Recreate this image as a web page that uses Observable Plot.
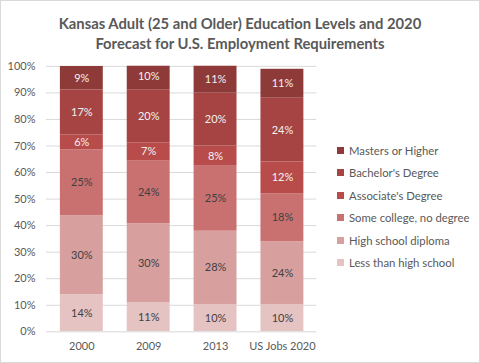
<!DOCTYPE html>
<html><head><meta charset="utf-8">
<script src="https://cdn.jsdelivr.net/npm/d3@7"></script>
<script src="https://cdn.jsdelivr.net/npm/@observablehq/plot@0.6"></script>
<style>
body{margin:0;background:#fff;font-family:Lato,"Open Sans",sans-serif;}
#wrap{position:relative;width:480px;height:363px;box-sizing:border-box;border:1px solid #d9d9d9;overflow:hidden;}
#title{position:absolute;top:12px;left:0;width:478px;text-align:center;font-weight:bold;font-size:14.8px;line-height:20px;color:#595959;}
#chart{position:absolute;top:-1px;left:-1px;}
#legend{position:absolute;left:336px;top:138px;font-size:11.3px;color:#595959;}
.item{display:flex;align-items:center;height:22.5px;}
.sw{width:7px;height:7px;margin-right:5px;}
</style></head>
<body>
<div id="wrap">
<div id="title">Kansas Adult (25 and Older) Education Levels and 2020<br>Forecast for U.S. Employment Requirements</div>
<div id="chart"></div>
<div id="legend"></div>
</div>
<script>
const categories = ["2000", "2009", "2013", "US Jobs 2020"];
const levels = ["Less than high school", "High school diploma", "Some college, no degree", "Associate's Degree", "Bachelor's Degree", "Masters or Higher"];
const colors = ["#E6C3C3", "#D89F9F", "#C87170", "#B84C4A", "#A54442", "#8E3A39"];
const labelColors = ["#404040", "#404040", "#404040", "#f2f2f2", "#f2f2f2", "#f2f2f2"];
// values per category, bottom to top (percent)
const v2000 = [14.0, 29.7, 24.8, 5.6, 17.0, 8.9];
const v2009 = [11.0, 29.7, 23.6, 6.9, 20.0, 9.6];
const v2013 = [10.3, 27.6, 24.5, 7.6, 19.9, 10.5];
const vJobs = [10.3, 23.6, 18.0, 12.1, 24.0, 10.9];
const yTicks = [0, 10, 20, 30, 40, 50, 60, 70, 80, 90, 100];

const series = [v2000, v2009, v2013, vJobs];
const data = [];
levels.forEach((lev, i) => {
  categories.forEach((c, j) => {
    data.push({cat: c, level: lev, value: series[j][i], li: i});
  });
});

const plot = Plot.plot({
  width: 480, height: 363,
  marginTop: 66, marginBottom: 31, marginLeft: 46, marginRight: 163,
  style: {fontFamily: "Lato, 'Open Sans', sans-serif", fontSize: "11px", color: "#595959", background: "transparent"},
  x: {domain: categories, paddingInner: 0.365, paddingOuter: 0.18, label: null},
  y: {domain: [0, 100], ticks: yTicks, label: null},
  color: {domain: levels, range: colors},
  marks: [
    Plot.gridY(yTicks, {stroke: "#d9d9d9", strokeOpacity: 1}),
    Plot.axisY(yTicks, {tickSize: 0, tickPadding: 11, tickFormat: d => d + "%", label: null, fill: "#595959"}),
    Plot.axisX({tickSize: 0, tickPadding: 10, label: null, fill: "#595959"}),
    Plot.barY(data, Plot.stackY({x: "cat", y: "value", z: "level", fill: "level", clip: true})),
    Plot.text(data, Plot.stackY({x: "cat", y: "value", z: "level",
      text: d => Math.round(d.value) + "%",
      fill: d => labelColors[d.li], fontSize: 11, clip: true}))
  ]
});
document.getElementById("chart").appendChild(plot);

const leg = document.getElementById("legend");
for (let i = levels.length - 1; i >= 0; i--) {
  const it = document.createElement("div");
  it.className = "item";
  const sw = document.createElement("div");
  sw.className = "sw";
  sw.style.background = colors[i];
  const tx = document.createElement("span");
  tx.textContent = levels[i];
  it.appendChild(sw); it.appendChild(tx);
  leg.appendChild(it);
}
</script>
</body></html>
